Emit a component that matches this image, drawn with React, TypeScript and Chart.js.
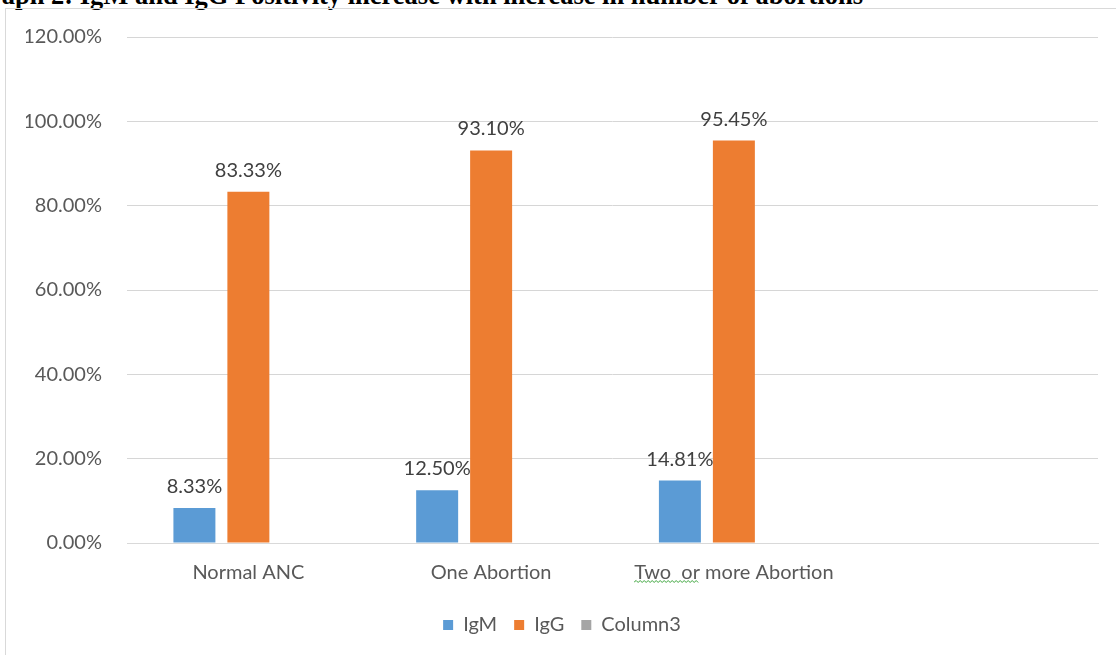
import React, { useEffect, useRef } from "react";
import { Chart, registerables } from "chart.js";

Chart.register(...registerables);

// Category labels (the fourth slot is an empty category)
const categories = ["Normal ANC", "One Abortion", "Two  or more Abortion", ""];

// Positivity in percent
const igmValues = [8.33, 12.5, 14.81, null];
const iggValues = [83.33, 93.1, 95.45, null];
const column3Values = [null, null, null, null];

const yTickMin = 0;
const yTickMax = 120;
const yTickStep = 20;

const titleText = "Graph 2: IgM and IgG Positivity increase with increase in number of abortions";

const FONT_FAMILY = "Lato, 'Open Sans', sans-serif";
const FONT_SIZE = 20;

// Value labels drawn above the IgM and IgG bars
const valueLabelPlugin = {
  id: "valueLabels",
  afterDatasetsDraw(chart: any) {
    const ctx = chart.ctx;
    ctx.save();
    ctx.font = `${FONT_SIZE}px ${FONT_FAMILY}`;
    ctx.fillStyle = "#404040";
    ctx.textAlign = "center";
    ctx.textBaseline = "alphabetic";
    [0, 1].forEach((di) => {
      const meta = chart.getDatasetMeta(di);
      const data = chart.data.datasets[di].data;
      meta.data.forEach((bar: any, i: number) => {
        const v = data[i];
        if (v === null || v === undefined) return;
        ctx.fillText(`${Number(v).toFixed(2)}%`, bar.x, bar.y - 15);
      });
    });
    ctx.restore();
  },
};

// Spell-check style wavy underline under the first words of the third label
const wavyUnderlinePlugin = {
  id: "wavyUnderline",
  afterDraw(chart: any) {
    const xScale = chart.scales.x;
    const idx = 2;
    const label = String(categories[idx]);
    const ctx = chart.ctx;
    ctx.save();
    ctx.font = `${FONT_SIZE}px ${FONT_FAMILY}`;
    const full = ctx.measureText(label).width;
    const part = ctx.measureText("Two  or").width;
    const cx = xScale.getPixelForTick(idx);
    const x0 = cx - full / 2;
    const y = xScale.top + xScale.options.ticks.padding + FONT_SIZE + 1;
    ctx.strokeStyle = "#3aa33a";
    ctx.lineWidth = 1;
    ctx.beginPath();
    let up = true;
    ctx.moveTo(x0, y);
    for (let x = x0 + 2; x <= x0 + part; x += 2) {
      ctx.lineTo(x, up ? y - 1.5 : y + 0.5);
      up = !up;
    }
    ctx.stroke();
    ctx.restore();
  },
};

export default function App() {
  const canvasRef = useRef<HTMLCanvasElement | null>(null);

  useEffect(() => {
    if (!canvasRef.current) return;
    const chart = new Chart(canvasRef.current, {
      type: "bar",
      data: {
        labels: categories,
        datasets: [
          {
            label: "IgM",
            data: igmValues,
            backgroundColor: "#5B9BD5",
            borderWidth: 0,
          },
          {
            label: "IgG",
            data: iggValues,
            backgroundColor: "#ED7D31",
            borderWidth: 0,
          },
          {
            label: "Column3",
            data: column3Values,
            backgroundColor: "#A5A5A5",
            borderWidth: 0,
          },
        ],
      },
      options: {
        animation: false,
        responsive: false,
        maintainAspectRatio: false,
        datasets: {
          bar: {
            categoryPercentage: 0.667,
            barPercentage: 0.778,
          },
        },
        layout: {
          padding: { left: 26, right: 18, top: 36, bottom: 10 },
        },
        scales: {
          x: {
            grid: { display: false, drawTicks: false },
            border: { display: true, color: "#d9d9d9", width: 1 },
            ticks: {
              padding: 18,
              color: "#595959",
              font: { family: FONT_FAMILY, size: FONT_SIZE },
              maxRotation: 0,
              autoSkip: false,
            },
            afterFit(scale: any) {
              scale.height = 55;
            },
          },
          y: {
            min: yTickMin,
            max: yTickMax,
            ticks: {
              stepSize: yTickStep,
              padding: 25,
              color: "#595959",
              font: { family: FONT_FAMILY, size: FONT_SIZE },
              callback: (v: any) => `${Number(v).toFixed(2)}%`,
            },
            grid: { color: "#d6d6d6", lineWidth: 1, drawTicks: false },
            border: { display: false },
            afterFit(scale: any) {
              scale.width = 101;
            },
          },
        },
        plugins: {
          legend: {
            position: "bottom",
            labels: {
              boxWidth: 10,
              boxHeight: 10,
              padding: 17,
              color: "#595959",
              font: { family: FONT_FAMILY, size: FONT_SIZE },
            },
          },
          tooltip: { enabled: false },
        },
      },
      plugins: [valueLabelPlugin, wavyUnderlinePlugin],
    });
    return () => chart.destroy();
  }, []);

  return (
    <div
      style={{
        position: "fixed",
        left: 0,
        top: 0,
        width: 1116,
        height: 655,
        overflow: "hidden",
        background: "#ffffff",
      }}
    >
      <div
        style={{
          position: "absolute",
          right: 1116 - 863,
          top: -18,
          whiteSpace: "nowrap",
          fontFamily: "'Liberation Serif', 'Times New Roman', serif",
          fontWeight: "bold",
          fontSize: 26.5,
          lineHeight: "26.5px",
          color: "#000000",
        }}
      >
        {titleText}
      </div>
      <div
        style={{
          position: "absolute",
          left: 5,
          top: 8,
          width: 1200,
          height: 700,
          borderTop: "1px solid #d9d9d9",
          borderLeft: "1px solid #d9d9d9",
        }}
      />
      <canvas
        ref={canvasRef}
        width={1116}
        height={655}
        style={{ position: "absolute", left: 0, top: 0 }}
      />
    </div>
  );
}
